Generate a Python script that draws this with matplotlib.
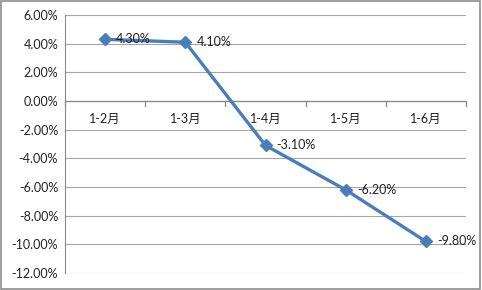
import matplotlib
matplotlib.use("Agg")
import matplotlib.pyplot as plt
from matplotlib.patches import Rectangle
from matplotlib.ticker import FuncFormatter, MultipleLocator

plt.rcParams['font.family'] = ['Lato', 'Noto Sans CJK SC', 'DejaVu Sans']

months = ["1-2月", "1-3月", "1-4月", "1-5月", "1-6月"]
growth = [4.3, 4.1, -3.1, -6.2, -9.8]
labels = ["4.30%", "4.10%", "-3.10%", "-6.20%", "-9.80%"]

fig = plt.figure(figsize=[4.82, 2.90], dpi=100)
ax = fig.add_axes([65 / 482, 17 / 290, 401 / 482, 258 / 290])

x = list(range(len(months)))
ax.plot(x, growth, color="#4a7ebb", lw=2.4, marker="D", ms=6.5, zorder=3)
for xi, yi, t in zip(x, growth, labels):
    ax.annotate(t, (xi, yi), xytext=(8, 0), textcoords="offset points",
                va="center", ha="left", fontsize=9, color="#222222", zorder=4)

ax.set_xlim(-0.5, len(months) - 0.5)
ax.set_ylim(-12, 6)
ax.yaxis.set_major_locator(MultipleLocator(2))
ax.yaxis.set_major_formatter(FuncFormatter(lambda v, p: "%.2f%%" % v))
ax.grid(axis="y", color="#a6a6a6", lw=0.8)
ax.set_axisbelow(True)

ax.spines[["top", "right", "bottom"]].set_visible(False)
ax.spines["left"].set_color("#888888")
ax.tick_params(axis="y", length=0, labelsize=9, labelcolor="#222222", pad=5)

# category axis sits at zero
ax.axhline(0, color="#888888", lw=0.9, zorder=2)
ax.set_xticks([])
for b in [i - 0.5 for i in range(len(months) + 1)]:
    ax.plot([b, b], [0, -0.35], color="#888888", lw=0.9, clip_on=False, zorder=2)
for xi, m in zip(x, months):
    ax.text(xi, -0.8, m, ha="center", va="top", fontsize=9, color="#222222")

fig.patches.append(Rectangle((0.002, 0.004), 0.994, 0.992, transform=fig.transFigure,
                             fill=False, edgecolor="#8c8c8c", lw=1.2))

fig.savefig("out.png", dpi=100)
